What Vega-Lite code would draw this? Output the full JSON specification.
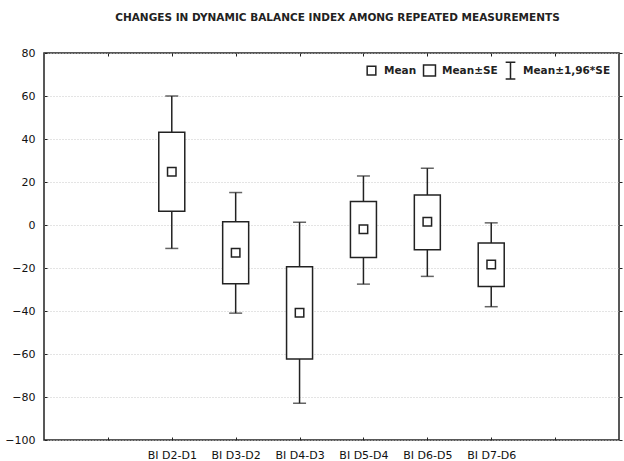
{
  "$schema": "https://vega.github.io/schema/vega-lite/v6.json",
  "width": 575,
  "height": 387,
  "autosize": {"type": "none"},
  "padding": {"left": 44, "top": 53, "right": 5, "bottom": 21},
  "background": "white",
  "title": {
    "text": "CHANGES IN DYNAMIC BALANCE INDEX AMONG REPEATED MEASUREMENTS",
    "font": "DejaVu Sans",
    "fontSize": 10.5,
    "fontWeight": "bold",
    "color": "#222",
    "anchor": "middle",
    "dx": 6,
    "offset": 24
  },
  "config": {
    "view": {"stroke": "#222", "strokeWidth": 1.5},
    "axis": {
      "labelFont": "DejaVu Sans",
      "labelFontSize": 11,
      "labelColor": "#111",
      "tickColor": "#222",
      "domain": false,
      "title": null
    },
    "legend": {
      "labelFont": "DejaVu Sans",
      "labelFontSize": 10.5,
      "labelFontWeight": "bold",
      "labelColor": "#222"
    }
  },
  "resolve": {"axis": {"x": "independent", "y": "independent"}},
  "datasets": {
    "stats": [
      {"cond": "BI D2-D1", "mean": 24.8, "se_lo": 6.4, "se_hi": 43.1, "ci_lo": -10.9, "ci_hi": 60.0},
      {"cond": "BI D3-D2", "mean": -12.9, "se_lo": -27.3, "se_hi": 1.5, "ci_lo": -41.0, "ci_hi": 15.1},
      {"cond": "BI D4-D3", "mean": -40.8, "se_lo": -62.3, "se_hi": -19.4, "ci_lo": -82.9, "ci_hi": 1.3},
      {"cond": "BI D5-D4", "mean": -2.0, "se_lo": -15.1, "se_hi": 10.9, "ci_lo": -27.5, "ci_hi": 22.8},
      {"cond": "BI D6-D5", "mean": 1.5, "se_lo": -11.5, "se_hi": 14.0, "ci_lo": -23.9, "ci_hi": 26.4},
      {"cond": "BI D7-D6", "mean": -18.4, "se_lo": -28.6, "se_hi": -8.4, "ci_lo": -38.0, "ci_hi": 1.0}
    ],
    "legendItems": [
      {"stat": "Mean"},
      {"stat": "Mean±SE"},
      {"stat": "Mean±1,96*SE"}
    ]
  },
  "layer": [
    {
      "data": {"name": "stats"},
      "mark": {"type": "rule", "color": "#222", "strokeWidth": 1.5},
      "encoding": {
        "x": {
          "field": "cond",
          "type": "nominal",
          "scale": {"type": "point", "padding": 1, "domain": [" ", "BI D2-D1", "BI D3-D2", "BI D4-D3", "BI D5-D4", "BI D6-D5", "BI D7-D6", "  "]},
          "axis": {"orient": "bottom", "labelAngle": 0, "tickSize": -3, "labelPadding": 12, "grid": false}
        },
        "y": {
          "field": "ci_lo",
          "type": "quantitative",
          "scale": {"domain": [-100, 80], "nice": false, "zero": false},
          "axis": {
            "orient": "left",
            "values": [-100, -80, -60, -40, -20, 0, 20, 40, 60, 80],
            "tickSize": -3,
            "labelPadding": 12,
            "grid": true,
            "gridColor": "#c8c8c8",
            "gridDash": [1, 2],
            "gridWidth": 1
          }
        },
        "y2": {"field": "ci_hi"}
      }
    },
    {
      "data": {"name": "stats"},
      "mark": {"type": "tick", "color": "#222", "thickness": 1.5, "size": 13},
      "encoding": {
        "x": {"field": "cond", "type": "nominal", "axis": null},
        "y": {"field": "ci_lo", "type": "quantitative", "axis": null}
      }
    },
    {
      "data": {"name": "stats"},
      "mark": {"type": "tick", "color": "#222", "thickness": 1.5, "size": 13},
      "encoding": {
        "x": {"field": "cond", "type": "nominal", "axis": null},
        "y": {"field": "ci_hi", "type": "quantitative", "axis": null}
      }
    },
    {
      "data": {"name": "stats"},
      "mark": {"type": "bar", "fill": "white", "stroke": "#222", "strokeWidth": 1.5, "size": 26},
      "encoding": {
        "x": {"field": "cond", "type": "nominal", "axis": null},
        "y": {"field": "se_lo", "type": "quantitative", "axis": null},
        "y2": {"field": "se_hi"}
      }
    },
    {
      "data": {"name": "stats"},
      "mark": {"type": "point", "shape": "square", "filled": false, "stroke": "#222", "strokeWidth": 1.5, "size": 72, "opacity": 1},
      "encoding": {
        "x": {"field": "cond", "type": "nominal", "axis": {"orient": "top", "labels": false, "tickSize": -3, "grid": false}},
        "y": {"field": "mean", "type": "quantitative", "axis": {"orient": "right", "labels": false, "tickSize": 3, "grid": false, "values": [-100, -80, -60, -40, -20, 0, 20, 40, 60, 80]}}
      }
    },
    {
      "data": {"name": "legendItems"},
      "mark": {"type": "point", "opacity": 0, "filled": false},
      "encoding": {
        "shape": {
          "field": "stat",
          "type": "nominal",
          "scale": {
            "domain": ["Mean", "Mean±SE", "Mean±1,96*SE"],
            "range": [
              "M0,-0.97M0,0.97M-0.5,-0.5H0.5V0.5H-0.5Z",
              "M0,-0.97M0,0.97M-0.69,-0.63H0.69V0.63H-0.69Z",
              "M-0.56,-0.97H0.56M0,-0.97V0.97M-0.56,0.97H0.56"
            ]
          },
          "legend": {
            "title": null,
            "orient": "top-right",
            "direction": "horizontal",
            "offset": 3,
            "symbolSize": 300,
            "symbolOpacity": 1,
            "symbolStrokeColor": "#222",
            "symbolStrokeWidth": 1.5,
            "symbolFillColor": "transparent",
            "labelOffset": 3,
            "columnPadding": 3,
            "padding": 5
          }
        }
      }
    }
  ]
}
